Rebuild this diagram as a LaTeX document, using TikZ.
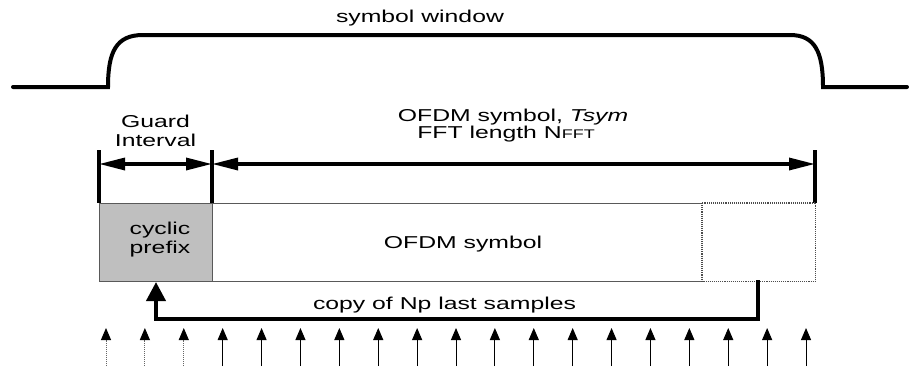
\documentclass[tikz,border=0pt]{standalone}
\usepackage{fontspec}
\setmainfont[FakeStretch=1.44]{Liberation Sans}
\usetikzlibrary{arrows.meta}

\begin{document}
\begin{tikzpicture}[x=1pt,y=-1pt,
  lbl/.style={inner sep=0pt, anchor=base, font=\fontsize{17.2}{19}\selectfont},
  heavy/.style={line width=4pt},
  dimarrow/.style={line width=3.3pt,
    {Triangle[length=26pt,width=12pt]}-{Triangle[length=26pt,width=12pt]}},
  copyarrow/.style={line width=4pt, -{Triangle[length=19pt,width=19pt]}},
  sample/.style={line width=1pt, -{Triangle[length=12pt,width=10pt,color=black]}},
  boxline/.style={line width=1pt, draw=black!65},
]
\useasboundingbox (0,0) rectangle (909,370);

% symbol window
\coordinate (w0) at (13,87);
\coordinate (w1) at (108,87);
\coordinate (w2) at (143,35);
\coordinate (w3) at (790,35);
\coordinate (w4) at (823,87);
\coordinate (w5) at (907,87);
\draw[heavy, line cap=round] (w0) -- (w1)
  .. controls (108,52) and (116,35) .. (w2) -- (w3)
  .. controls (815,35) and (823,52) .. (w4) -- (w5);
\node[lbl] (win) at (420,22) {symbol window};

% guard interval and symbol span markers
\coordinate (b1t) at (99,150);  \coordinate (b1b) at (99,203);
\coordinate (b2t) at (212,150); \coordinate (b2b) at (212,203);
\coordinate (b3t) at (815,150); \coordinate (b3b) at (815,203);
\draw[heavy] (b1t) -- (b1b);
\draw[heavy] (b2t) -- (b2b);
\draw[heavy] (b3t) -- (b3b);
\coordinate (g1) at (99,164);
\coordinate (g2) at (212,164);
\coordinate (g3) at (815,164);
\draw[dimarrow] (g1) -- (g2);
\draw[dimarrow] (g2) -- (g3);

\node[lbl] (gi1) at (155.5,127) {Guard};
\node[lbl] (gi2) at (155.5,146) {Interval};
\node[lbl] (os1) at (513,121) {OFDM symbol, \textit{Tsym}};
\node[lbl] (os2) at (506,138) {FFT length N{\fontsize{12.5}{14}\selectfont FFT}};

% cyclic prefix, symbol body and its copied tail
\node[boxline, fill=black!25, anchor=north west, minimum width=113pt,
      minimum height=78pt, inner sep=0pt] (cp) at (99,203) {};
\node[anchor=north west, minimum width=490pt, minimum height=78pt,
      inner sep=0pt] (sym) at (212,203) {};
\node[anchor=north west, minimum width=113pt, minimum height=78pt,
      inner sep=0pt] (tail) at (702,203) {};
\draw[boxline] (sym.north east) -- (sym.north west) -- (sym.south west) -- (sym.south east);
\draw[line width=1.1pt, draw=black!70, densely dotted] (tail.north west) rectangle (tail.south east);

\node[lbl] (cp1) at (160,234) {cyclic};
\node[lbl] (cp2) at (160,253) {prefix};
\node[lbl] (symtxt) at (463,248) {OFDM symbol};

% copy of the last samples into the prefix
\coordinate (src) at (758,280);
\coordinate (c1) at (758,319);
\coordinate (c2) at (156,319);
\coordinate (dst) at (156,282);
\draw[copyarrow] (src) -- (c1) -- (c2) -- (dst);
\node[lbl] (copytxt) at (444.5,309) {copy of Np last samples};

% sample instants
\foreach \i in {0,...,18} {
  \coordinate (s\i) at ({106+38.89*\i},366);
  \coordinate (t\i) at ({106+38.89*\i},328);
}
\foreach \i in {0,1,2} {
  \draw[sample, draw=black!60, densely dotted] (s\i) -- (t\i);
}
\foreach \i in {3,...,18} {
  \draw[sample] (s\i) -- (t\i);
}
\end{tikzpicture}
\end{document}
